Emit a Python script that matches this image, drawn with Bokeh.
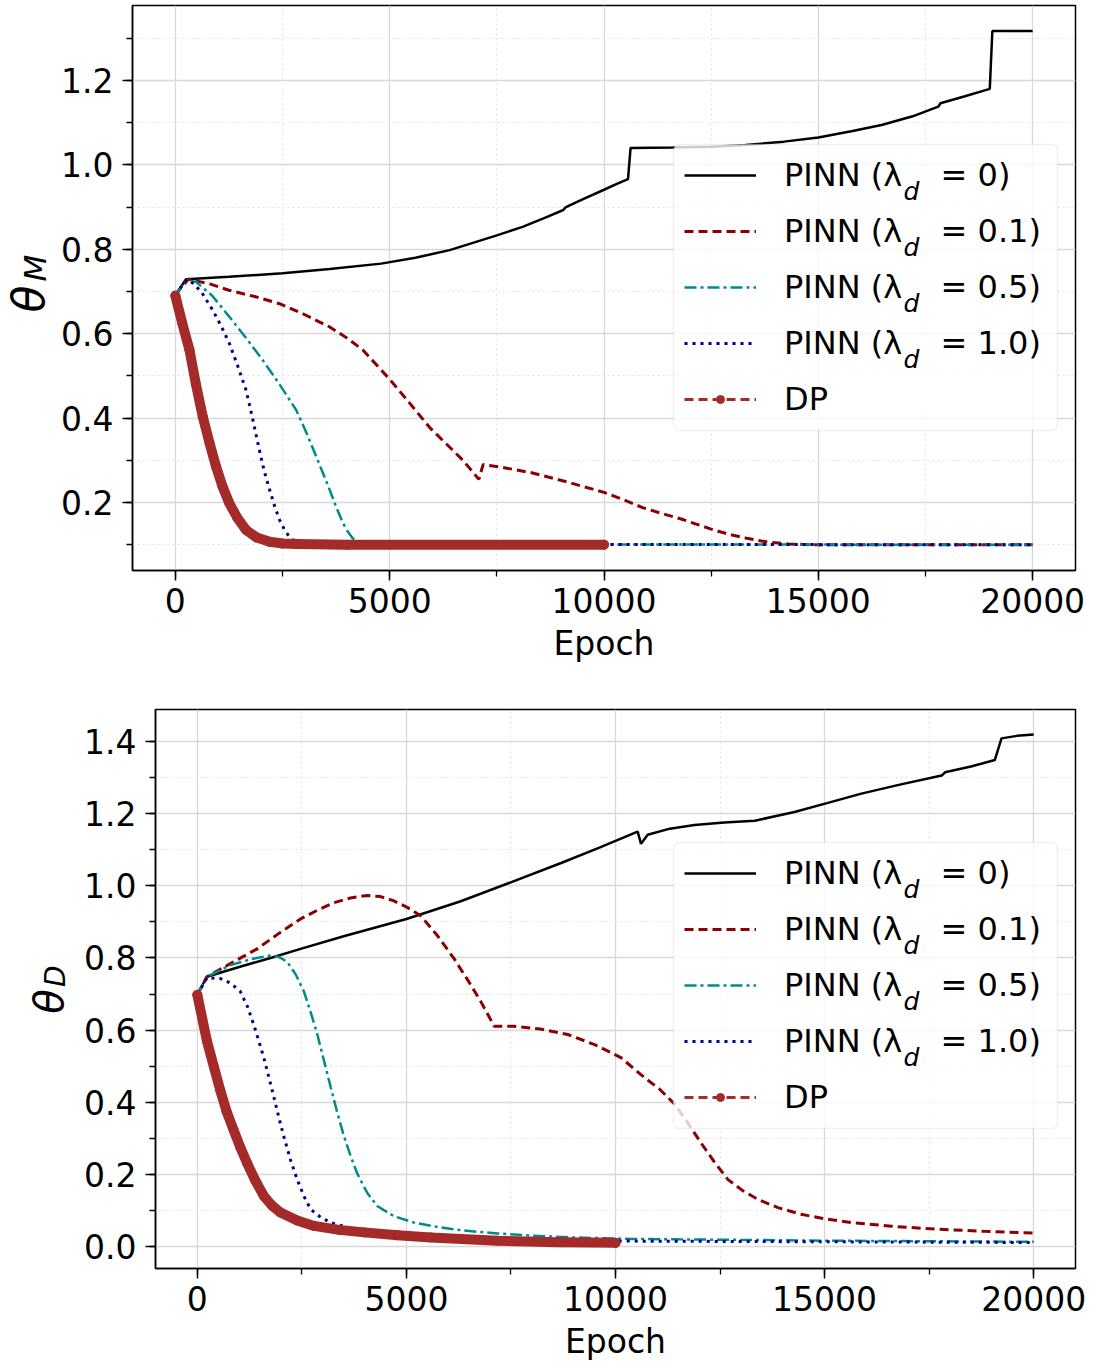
import math
from bokeh.plotting import figure
from bokeh.models import (Range1d, SingleIntervalTicker, PrintfTickFormatter, Legend,
                          LegendItem, Label, BoxAnnotation)
from bokeh.layouts import row
from bokeh.core.properties import value
from bokeh.embed import file_html
from bokeh.resources import INLINE

FONT = "DejaVu Sans"

# ---------------- data: theta_M (top panel) ----------------
top_x_l0 = [0, 250, 1250, 2500, 3600, 4800, 5600, 6400, 7500, 8100, 8660, 9050, 9100, 9500,
            10000, 10300, 10560, 10620, 11600, 12500, 13300, 14200, 15000, 15800, 16500,
            17200, 17800, 17850, 18400, 19000, 19060, 20000]
top_y_l0 = [0.692, 0.729, 0.735, 0.743, 0.753, 0.766, 0.780, 0.798, 0.833, 0.853, 0.876,
            0.893, 0.899, 0.918, 0.941, 0.955, 0.966, 1.040, 1.041, 1.043, 1.047, 1.055,
            1.065, 1.080, 1.095, 1.115, 1.138, 1.146, 1.162, 1.180, 1.317, 1.317]

top_x_l01 = [0, 300, 800, 1250, 1850, 2430, 3000, 3600, 4000, 4380, 5000, 5470, 5940, 6330,
             6710, 7030, 7080, 7180, 7700, 8290, 9100, 10000, 10450, 10900, 11350, 11800,
             12150, 12500, 12900, 13300, 13830, 14300, 14840, 20000]
top_y_l01 = [0.692, 0.729, 0.718, 0.703, 0.688, 0.671, 0.646, 0.616, 0.590, 0.561, 0.492,
             0.435, 0.377, 0.338, 0.300, 0.261, 0.255, 0.290, 0.282, 0.271, 0.250, 0.224,
             0.207, 0.188, 0.174, 0.161, 0.149, 0.137, 0.125, 0.116, 0.106, 0.102, 0.100,
             0.100]

top_x_l05 = [0, 250, 480, 860, 1260, 1650, 2040, 2430, 2820, 3060, 3290, 3450, 3600, 3750,
             3910, 4030, 4140, 4300, 4500, 20000]
top_y_l05 = [0.692, 0.727, 0.723, 0.690, 0.640, 0.590, 0.537, 0.480, 0.419, 0.365, 0.308,
             0.268, 0.230, 0.190, 0.151, 0.130, 0.115, 0.105, 0.101, 0.100]

top_x_l1 = [0, 250, 330, 600, 870, 1060, 1260, 1450, 1650, 1800, 1960, 2080, 2200, 2320,
            2430, 2550, 2660, 2800, 3000, 20000]
top_y_l1 = [0.692, 0.727, 0.727, 0.700, 0.656, 0.620, 0.577, 0.525, 0.466, 0.400, 0.324,
            0.272, 0.230, 0.190, 0.159, 0.135, 0.119, 0.107, 0.101, 0.100]

top_x_dp = [0, 160, 330, 480, 640, 800, 950, 1100, 1260, 1450, 1650, 1900, 2200, 2500, 2820,
            4000, 10000]
top_y_dp = [0.690, 0.625, 0.561, 0.480, 0.403, 0.340, 0.285, 0.238, 0.198, 0.163, 0.135,
            0.117, 0.107, 0.103, 0.102, 0.100, 0.100]

# ---------------- data: theta_D (bottom panel) ----------------
bot_x_l0 = [0, 230, 1000, 1750, 2470, 3500, 5000, 6300, 7510, 8700, 9600, 10530, 10610,
            10770, 11300, 11890, 12600, 13330, 14280, 15100, 15880, 16800, 17800, 17880,
            18500, 19070, 19230, 19600, 20000]
bot_y_l0 = [0.698, 0.748, 0.775, 0.800, 0.825, 0.860, 0.908, 0.957, 1.010, 1.063, 1.105,
            1.150, 1.116, 1.141, 1.158, 1.168, 1.175, 1.180, 1.204, 1.230, 1.255, 1.280,
            1.305, 1.314, 1.330, 1.348, 1.408, 1.415, 1.419]

bot_x_l01 = [0, 230, 800, 1430, 1950, 2470, 2870, 3270, 3660, 4060, 4380, 4700, 5020, 5340,
             5740, 6140, 6460, 6780, 7100, 7580, 8200, 8860, 9500, 10130, 10690, 11050,
             11410, 11730, 12050, 12370, 12690, 13050, 13410, 13900, 14440, 15040, 15640,
             16600, 17640, 18800, 20000]
bot_y_l01 = [0.698, 0.748, 0.785, 0.825, 0.868, 0.908, 0.932, 0.953, 0.966, 0.973, 0.970,
             0.958, 0.940, 0.917, 0.862, 0.798, 0.740, 0.679, 0.611, 0.611, 0.603, 0.588,
             0.560, 0.524, 0.469, 0.437, 0.396, 0.343, 0.287, 0.234, 0.186, 0.155, 0.131,
             0.108, 0.090, 0.077, 0.067, 0.057, 0.049, 0.043, 0.038]

bot_x_l05 = [0, 230, 790, 1300, 1750, 1950, 2150, 2350, 2550, 2710, 2870, 3030, 3190, 3350,
             3510, 3670, 3820, 4060, 4300, 4700, 5180, 5800, 6380, 7180, 7980, 9000, 10370,
             15000, 20000]
bot_y_l05 = [0.698, 0.748, 0.780, 0.797, 0.807, 0.803, 0.789, 0.755, 0.707, 0.650, 0.588,
             0.515, 0.442, 0.370, 0.305, 0.250, 0.204, 0.150, 0.113, 0.085, 0.067, 0.054,
             0.045, 0.037, 0.031, 0.026, 0.022, 0.017, 0.014]

bot_x_l1 = [0, 230, 550, 800, 1030, 1200, 1350, 1470, 1590, 1710, 1830, 1950, 2070, 2230,
            2390, 2550, 2710, 2950, 3190, 3700, 5000, 7500, 10000, 20000]
bot_y_l1 = [0.698, 0.745, 0.743, 0.730, 0.707, 0.665, 0.615, 0.570, 0.524, 0.470, 0.415,
            0.358, 0.305, 0.240, 0.186, 0.140, 0.104, 0.082, 0.067, 0.050, 0.032, 0.021,
            0.016, 0.012]

bot_x_dp = [0, 230, 400, 550, 700, 870, 1030, 1190, 1390, 1590, 1790, 1990, 2390, 2790, 3390,
            3990, 4790, 5580, 7180, 8600, 10000]
bot_y_dp = [0.698, 0.570, 0.497, 0.433, 0.375, 0.323, 0.275, 0.232, 0.183, 0.141, 0.114,
            0.095, 0.073, 0.058, 0.047, 0.040, 0.032, 0.026, 0.017, 0.013, 0.011]

legend_labels = ["PINN (λ\u2002\u2002\u2009= 0)", "PINN (λ\u2002\u2002\u2009= 0.1)",
                 "PINN (λ\u2002\u2002\u2009= 0.5)", "PINN (λ\u2002\u2002\u2009= 1.0)", "DP"]

C_L0 = "black"
C_L01 = "#8B0000"
C_L05 = "#008B8B"
C_L1 = "#00008B"
C_DP = "#A52A2A"

# legend layout constants
PAD = 11
GW = 72
GH = 20
LH = 40
SP = 16
STANDOFF = 28
LAMBDA_END = 119
LEG_W = 384


def make_panel(w, h, bl, bt, bb, br, xr, yr, data, leg_xy):
    p = figure(width=w, height=h, x_range=Range1d(*xr), y_range=Range1d(*yr),
               output_backend="svg", toolbar_location=None,
               min_border_left=bl, min_border_top=bt, min_border_bottom=bb, min_border_right=br)
    p.background_fill_color = "white"
    p.border_fill_color = "white"
    p.outline_line_color = "black"
    p.outline_line_width = 1.5

    xt = SingleIntervalTicker(interval=5000, num_minor_ticks=2)
    yt = SingleIntervalTicker(interval=0.2, num_minor_ticks=2)
    p.xaxis.ticker = xt
    p.yaxis.ticker = yt
    p.xgrid.ticker = xt
    p.ygrid.ticker = yt
    p.xaxis.formatter = PrintfTickFormatter(format="%d")
    p.yaxis.formatter = PrintfTickFormatter(format="%.1f")

    for ax in (p.xaxis, p.yaxis):
        ax.axis_line_color = "black"
        ax.axis_line_width = 1.5
        ax.major_tick_line_color = "black"
        ax.major_tick_line_width = 1.5
        ax.minor_tick_line_color = "black"
        ax.minor_tick_line_width = 1.3
        ax.major_tick_in = 0
        ax.major_tick_out = 10
        ax.minor_tick_in = 0
        ax.minor_tick_out = 6
        ax.major_label_text_font = FONT
        ax.major_label_text_font_size = "33px"
        ax.major_label_text_color = "black"
    p.yaxis.major_label_standoff = 9
    p.xaxis.major_label_standoff = 7
    p.xaxis.axis_label = "Epoch"
    p.xaxis.axis_label_text_font = FONT
    p.xaxis.axis_label_text_font_size = "33px"
    p.xaxis.axis_label_text_font_style = "normal"
    p.xaxis.axis_label_text_color = "black"
    p.xaxis.axis_label_standoff = 8

    p.grid.grid_line_color = "#d8d8d8"
    p.grid.grid_line_width = 1.3
    p.grid.minor_grid_line_color = "#e2e2e2"
    p.grid.minor_grid_line_width = 1.0
    p.grid.minor_grid_line_dash = "2 3"

    (x0, y0), (x1, y1), (x2, y2), (x3, y3), (xd, yd) = data
    r0 = p.line(x0, y0, line_color=C_L0, line_width=2.5)
    r1 = p.line(x1, y1, line_color=C_L01, line_width=3, line_dash="9 5")
    r2 = p.line(x2, y2, line_color=C_L05, line_width=2.5, line_dash="12 4 3 4")
    r3 = p.line(x3, y3, line_color=C_L1, line_width=3, line_dash="3 5")
    rd_dash = p.line(xd, yd, line_color=C_DP, line_width=3, line_dash="9 5")
    p.line(xd, yd, line_color=C_DP, line_width=10, line_cap="round", line_join="round")
    rd_pts = p.scatter(xd, yd, marker="circle", size=9, color=C_DP)

    # legend frame (semi-transparent white box with light border)
    leg_h = 2 * PAD + 5 * LH + 4 * SP
    box = BoxAnnotation(left=leg_xy[0], right=leg_xy[0] + LEG_W, bottom=leg_xy[1],
                        top=leg_xy[1] + leg_h, left_units="screen", right_units="screen",
                        top_units="screen", bottom_units="screen", fill_color="white",
                        fill_alpha=0.8, line_color="#cccccc", line_width=1.5, level="glyph")
    if "border_radius" in BoxAnnotation.properties():
        box.border_radius = 6
    p.add_layout(box)

    items = [LegendItem(label=legend_labels[0], renderers=[r0]),
             LegendItem(label=legend_labels[1], renderers=[r1]),
             LegendItem(label=legend_labels[2], renderers=[r2]),
             LegendItem(label=legend_labels[3], renderers=[r3]),
             LegendItem(label=legend_labels[4], renderers=[rd_dash, rd_pts])]
    # borderless legend has no padding, so offset it by the padding of the box
    leg = Legend(items=items, location=(leg_xy[0] + PAD, leg_xy[1] + PAD), padding=PAD,
                 spacing=SP, glyph_width=GW, glyph_height=GH, label_height=LH,
                 label_standoff=STANDOFF, margin=0,
                 border_line_color=None, background_fill_alpha=0.0,
                 label_text_font=FONT, label_text_font_size="32px", label_text_color="black")
    p.add_layout(leg)

    # subscript "d" in legend labels
    text_x = leg_xy[0] + PAD + GW + STANDOFF + LAMBDA_END
    for i in range(4):
        cy = leg_xy[1] + leg_h - PAD - LH / 2 - i * (LH + SP)
        p.add_layout(Label(x=text_x, y=cy - 16, x_units="screen", y_units="screen", text="d",
                           text_font=FONT, text_font_style="italic", text_font_size="25px",
                           text_baseline="alphabetic", text_align="left", text_color="black"))
    return p


def make_ylabel(w, h, bt, bb, parts):
    f = figure(width=w, height=h, x_range=Range1d(0, w), y_range=Range1d(0, h - bt - bb),
               x_axis_type=None, y_axis_type=None, output_backend="svg",
               toolbar_location=None, min_border_left=0, min_border_right=0,
               min_border_top=bt, min_border_bottom=bb)
    f.outline_line_color = None
    f.background_fill_color = "white"
    f.border_fill_color = "white"
    for (tx, ty, txt, size) in parts:
        f.text(x=[tx], y=[ty], text=[txt], angle=math.pi / 2, text_font=value(FONT),
               text_font_style="italic", text_font_size=value(size),
               text_baseline="middle", text_align="left", text_color="black")
    return f


p1 = make_panel(1032, 700, 76, 5, 130, 13, (-1000, 21000), (0.039, 1.3775),
                [(top_x_l0, top_y_l0), (top_x_l01, top_y_l01), (top_x_l05, top_y_l05),
                 (top_x_l1, top_y_l1), (top_x_dp, top_y_dp)], (541, 140))
lab1 = make_ylabel(56, 700, 5, 130, [(28, 258, "θ", "44px"), (34, 289, "M", "31px")])

p2 = make_panel(1012, 663, 79, 9, 90, 13, (-1000, 21000), (-0.060, 1.488),
                [(bot_x_l0, bot_y_l0), (bot_x_l01, bot_y_l01), (bot_x_l05, bot_y_l05),
                 (bot_x_l1, bot_y_l1), (bot_x_dp, bot_y_dp)], (518, 140))
lab2 = make_ylabel(76, 663, 9, 90, [(48, 257, "θ", "40px"), (55, 284, "D", "28px")])

open("out.html", "w").write(file_html([row(lab1, p1), row(lab2, p2)], INLINE))
